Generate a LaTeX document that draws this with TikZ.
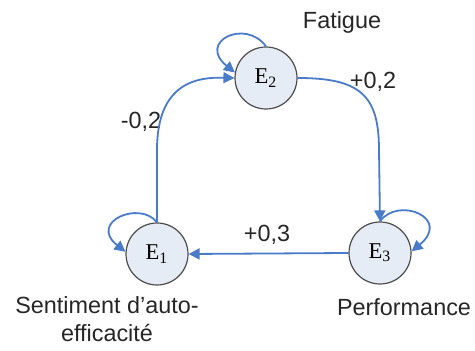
\documentclass[tikz,border=0pt]{standalone}
\usepackage{fontspec}
\setmainfont{Liberation Serif}
\newfontfamily\arialfont{Liberation Sans}
\usetikzlibrary{arrows.meta}
\definecolor{edgeblue}{HTML}{4A7BC8}
\definecolor{nodefill}{HTML}{E6ECF6}
\definecolor{nodeline}{HTML}{4D4D4D}
\tikzset{
  state/.style={circle, draw=nodeline, fill=nodefill, line width=0.6pt, minimum size=31pt, inner sep=0pt, font=\fontsize{11.3}{13}\selectfont},
  arr/.style={draw=edgeblue, line width=0.9pt, -{Triangle[length=5.5pt,width=5.5pt]}, fill=none},
  lbl/.style={font=\arialfont\fontsize{11.7}{14}\selectfont, inner sep=0pt, align=center, text=black!85}
}
\begin{document}
\begin{tikzpicture}[x=0.5pt,y=-0.5pt]
\useasboundingbox (0,0) rectangle (475,351);
\node[state] (E2) at (266,78) {E\textsubscript{2}};
\node[state] (E1) at (157,254) {E\textsubscript{1}};
\node[state] (E3) at (380,253) {E\textsubscript{3}};
% labels
\node[lbl] (fat) at (342,22) {Fatigue};
\node[lbl] (w12) at (373,82) {+0,2};
\node[lbl] (w21) at (141,122) {-0,2};
\node[lbl] (w31) at (267,235) {+0,3};
\node[lbl] (sent) at (107,319) {Sentiment d’auto-\\efficacité};
\node[lbl] (perf) at (404,307) {Performance};
% edges
\draw[arr] (E1.north) -- (157,150) .. controls (157,82) and (198,77) .. (E2.west);
\draw[arr] (E2.east) .. controls (360,78) and (379,95) .. (379,150) -- (E3.north);
\draw[arr] (E3.west) -- (E1.east);
% self loops
\draw[arr] (E2.north) .. controls (245,18) and (197,42) .. (E2.170);
\draw[arr] (E1.north) .. controls (140,200) and (88,222) .. (E1.176);
\draw[arr] (E3.north) .. controls (398,196) and (452,218) .. (E3.3);
\end{tikzpicture}
\end{document}
